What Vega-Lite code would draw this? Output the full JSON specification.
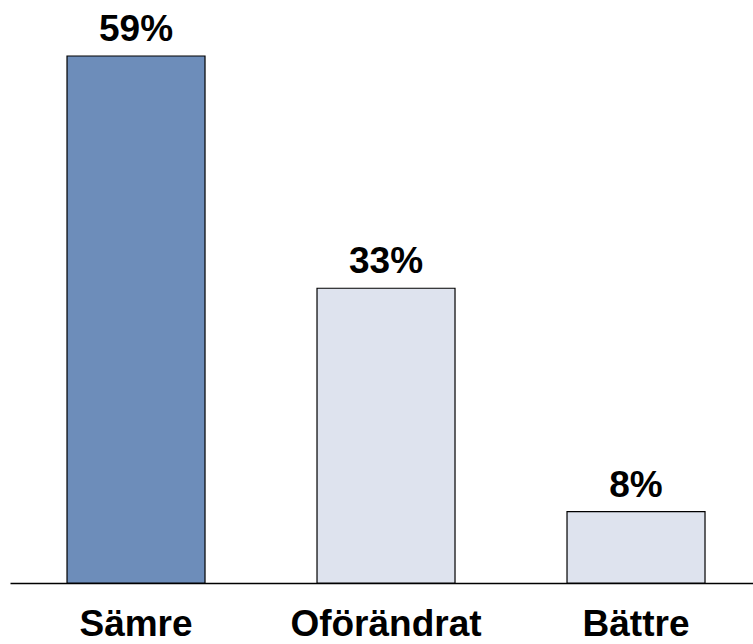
{
  "$schema": "https://vega.github.io/schema/vega-lite/v6.json",
  "width": 743,
  "height": 583,
  "autosize": "none",
  "padding": {"left": 10, "top": 0, "right": 0, "bottom": 61},
  "background": "white",
  "config": {"view": {"stroke": null}, "font": "Liberation Sans"},
  "data": {"values": [
    {"kategori": "Sämre", "andel": 59, "etikett": "59%", "grupp": "a"},
    {"kategori": "Oförändrat", "andel": 33, "etikett": "33%", "grupp": "b"},
    {"kategori": "Bättre", "andel": 8, "etikett": "8%", "grupp": "b"}
  ]},
  "encoding": {
    "x": {"field": "kategori", "type": "nominal", "sort": null,
      "scale": {"paddingInner": 0.448, "paddingOuter": 0.21, "align": 0.543},
      "axis": {"title": null, "labelAngle": 0, "ticks": false, "tickSize": 0, "grid": false,
        "domainColor": "black", "domainWidth": 1.5, "labelFont": "Liberation Sans", "labelFontWeight": "bold",
        "labelFontSize": 37, "labelColor": "black", "labelBaseline": "alphabetic", "labelPadding": 52, "labelLimit": 0}},
    "y": {"field": "andel", "type": "quantitative", "scale": {"domain": [0, 65.27]}, "axis": null}
  },
  "layer": [
    {"mark": {"type": "bar", "stroke": "black", "strokeWidth": 1.2},
     "encoding": {"color": {"field": "grupp", "type": "nominal", "legend": null,
       "scale": {"domain": ["a", "b"], "range": ["#6d8dba", "#dee3ee"]}}}},
    {"mark": {"type": "text", "baseline": "alphabetic", "dy": -15, "font": "Liberation Sans", "fontWeight": "bold", "fontSize": 37, "color": "black"},
     "encoding": {"text": {"field": "etikett"}}}
  ]
}
